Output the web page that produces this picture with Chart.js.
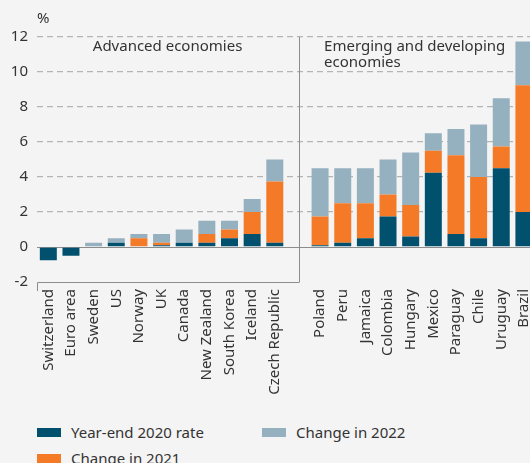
<!DOCTYPE html>
<html>
<head>
<meta charset="utf-8">
<script src="https://cdn.jsdelivr.net/npm/chart.js@4/dist/chart.umd.min.js"></script>
<style>
  html, body { margin: 0; padding: 0; background: #f4f4f4; overflow: hidden; }
  body { width: 530px; height: 463px; position: relative; font-family: "Noto Sans", sans-serif; color: #333; }
  #wrap { position: absolute; left: 0; top: 0; width: 549px; height: 400px; }
  #legend { position: absolute; left: 37px; top: 421px; display: grid;
            grid-template-rows: 22px 22px; grid-template-columns: 225px 200px;
            grid-auto-flow: column; font-size: 15px; row-gap: 4px; }
  .item { display: flex; align-items: center; white-space: nowrap; }
  .swatch { width: 24px; height: 9px; margin-right: 10px; }
</style>
</head>
<body>
<div id="wrap"><canvas id="chart" width="549" height="400"></canvas></div>
<div id="legend"></div>
<script>
// Categories: advanced economies, an empty slot, then emerging economies
const categories = [
    "Switzerland", "Euro area", "Sweden", "US", "Norway", "UK", "Canada",
    "New Zealand", "South Korea", "Iceland", "Czech Republic",
    "",
    "Poland", "Peru", "Jamaica", "Colombia", "Hungary", "Mexico",
    "Paraguay", "Chile", "Uruguay", "Brazil",
];

const rate2020 = [
    -0.75, -0.5, 0, 0.25, 0, 0.1, 0.25, 0.25, 0.5, 0.75, 0.25,
    null,
    0.1, 0.25, 0.5, 1.75, 0.6, 4.25, 0.75, 0.5, 4.5, 2.0,
];

const change2021 = [
    0, 0, 0, 0, 0.5, 0.15, 0, 0.5, 0.5, 1.25, 3.5,
    null,
    1.65, 2.25, 2.0, 1.25, 1.8, 1.25, 4.5, 3.5, 1.25, 7.25,
];

const change2022 = [
    0, 0, 0.25, 0.25, 0.25, 0.5, 0.75, 0.75, 0.5, 0.75, 1.25,
    null,
    2.75, 2.0, 2.0, 2.0, 3.0, 1.0, 1.5, 3.0, 2.75, 2.5,
];

const yTicks = [-2, 0, 2, 4, 6, 8, 10, 12];

const COLORS = {
    rate2020: "#00506e",
    change2021: "#f47a28",
    change2022: "#95b0bf",
    text: "#333333",
    grid: "#b4b4b4",
    axis: "#8c8c8c",
};

const FONT = "'Noto Sans', sans-serif";

const datasets = [
    { label: "Year-end 2020 rate", data: rate2020, backgroundColor: COLORS.rate2020 },
    { label: "Change in 2021", data: change2021, backgroundColor: COLORS.change2021 },
    { label: "Change in 2022", data: change2022, backgroundColor: COLORS.change2022 },
];

// Texts, zero line, bottom rule and divider between the two groups
const decorations = {
    id: "decorations",
    beforeDatasetsDraw(chart) {
        const { ctx, chartArea, scales } = chart;
        const x = scales.x;
        const y = scales.y;
        const y0 = y.getPixelForValue(0);
        const yBottom = y.getPixelForValue(-2);
        const divX = (x.getPixelForValue(10) + x.getPixelForValue(12)) / 2 + 2;

        ctx.save();
        ctx.strokeStyle = COLORS.axis;
        ctx.lineWidth = 1;

        ctx.beginPath();
        ctx.moveTo(chartArea.left, Math.round(y0) + 0.5);
        ctx.lineTo(chartArea.right, Math.round(y0) + 0.5);
        ctx.stroke();

        ctx.beginPath();
        ctx.moveTo(chartArea.left + 0.5, Math.round(yBottom) + 9);
        ctx.lineTo(chartArea.left + 0.5, Math.round(yBottom) + 0.5);
        ctx.lineTo(Math.round(divX) + 0.5, Math.round(yBottom) + 0.5);
        ctx.stroke();

        ctx.beginPath();
        ctx.moveTo(Math.round(divX) + 0.5, chartArea.top);
        ctx.lineTo(Math.round(divX) + 0.5, yBottom);
        ctx.stroke();
        ctx.restore();
    },
    afterDraw(chart) {
        const { ctx, chartArea, scales } = chart;
        const x = scales.x;
        const y = scales.y;
        const yTop = y.getPixelForValue(12);

        ctx.save();
        ctx.fillStyle = COLORS.text;
        ctx.font = "15px " + FONT;
        ctx.textBaseline = "middle";

        ctx.textAlign = "left";
        ctx.fillText("%", chartArea.left, 19);

        ctx.textAlign = "center";
        const advX = (x.getPixelForValue(0) + x.getPixelForValue(10)) / 2 + 6;
        ctx.fillText("Advanced economies", advX, yTop + 10);

        ctx.textAlign = "left";
        const emX = x.getPixelForValue(12) + 4;
        ctx.fillText("Emerging and developing", emX, yTop + 10);
        ctx.fillText("economies", emX, yTop + 26);
        ctx.restore();
    },
};

new Chart(document.getElementById("chart"), {
    type: "bar",
    data: { labels: categories, datasets },
    options: {
        responsive: false,
        animation: false,
        devicePixelRatio: 1,
        layout: { padding: { top: 37, right: 4, left: 0, bottom: 0 } },
        datasets: {
            bar: { barPercentage: 0.75, categoryPercentage: 1.0 },
        },
        plugins: {
            legend: { display: false },
            tooltip: { enabled: false },
        },
        scales: {
            x: {
                stacked: true,
                grid: { display: false, drawTicks: false },
                border: { display: false },
                ticks: {
                    color: COLORS.text,
                    font: { family: FONT, size: 15 },
                    minRotation: 90,
                    maxRotation: 90,
                    autoSkip: false,
                    padding: 7,
                },
                afterFit(scale) { scale.height = 118; },
            },
            y: {
                stacked: true,
                min: yTicks[0],
                max: yTicks[yTicks.length - 1],
                afterBuildTicks(scale) {
                    scale.ticks = yTicks.map((v) => ({ value: v }));
                },
                grid: {
                    drawTicks: false,
                    color: (c) => (c.tick && c.tick.value > 0 ? COLORS.grid : "transparent"),
                    lineWidth: 1.3,
                },
                border: { display: false, dash: [6, 4] },
                ticks: {
                    color: COLORS.text,
                    font: { family: FONT, size: 15 },
                    padding: 9,
                },
                afterFit(scale) { scale.width = 37; },
            },
        },
    },
    plugins: [decorations],
});

// Legend: two columns, filled top to bottom
const legend = document.getElementById("legend");
datasets.forEach((ds) => {
    const item = document.createElement("div");
    item.className = "item";
    const swatch = document.createElement("span");
    swatch.className = "swatch";
    swatch.style.background = ds.backgroundColor;
    item.appendChild(swatch);
    item.appendChild(document.createTextNode(ds.label));
    legend.appendChild(item);
});
</script>
</body>
</html>
